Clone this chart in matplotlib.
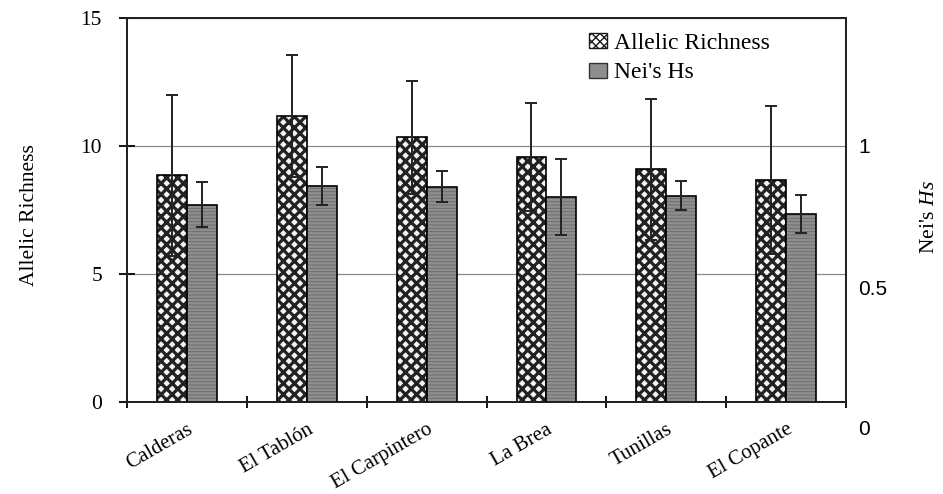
import numpy as np
import matplotlib.pyplot as plt
from matplotlib.patches import Patch

# values
sites = ["Calderas", "El Tablón", "El Carpintero", "La Brea", "Tunillas", "El Copante"]
richness = [8.85, 11.17, 10.34, 9.58, 9.09, 8.67]
richness_err = [3.15, 2.37, 2.20, 2.10, 2.75, 2.90]
nei_hs = [0.793, 0.859, 0.856, 0.819, 0.825, 0.759]
nei_err = [0.080, 0.067, 0.054, 0.135, 0.050, 0.067]
left_ticks = [0, 5, 10, 15]
right_ticks = [0.5, 1]

plt.rcParams['font.family'] = ['Liberation Serif', 'DejaVu Serif']
plt.rcParams['mathtext.fontset'] = 'custom'
plt.rcParams['mathtext.it'] = 'Liberation Serif:italic'
plt.rcParams['mathtext.rm'] = 'Liberation Serif'

fig = plt.figure(figsize=(9.43, 4.94), dpi=100)
ax = fig.add_axes([0.1347, 0.1862, 0.7625, 0.7773])
ax2 = ax.twinx()

x = np.arange(len(sites))
w = 0.25

# allelic richness: checker look, drawn as fill+hatch, then outline
with plt.rc_context({'hatch.linewidth': 2.3}):
    ax.bar(x - w / 2, richness, w, color='#f4f4f4', edgecolor='#222222',
           hatch='xxx', linewidth=0, zorder=2)
ax.bar(x - w / 2, richness, w, fill=False, edgecolor='black', linewidth=1.2, zorder=3)
ax.errorbar(x - w / 2, richness, yerr=richness_err, fmt='none', ecolor='#222222',
            elinewidth=1.4, capsize=4, capthick=1.4, zorder=4)

with plt.rc_context({'hatch.linewidth': 0.6}):
    ax2.bar(x + w / 2, nei_hs, w, color='#8e8e8e', edgecolor='#6a6a6a',
            hatch='-----', linewidth=0, zorder=2)
ax2.bar(x + w / 2, nei_hs, w, fill=False, edgecolor='black', linewidth=1.2, zorder=3)
ax2.errorbar(x + w / 2, nei_hs, yerr=nei_err, fmt='none', ecolor='#222222',
             elinewidth=1.4, capsize=4, capthick=1.4, zorder=4)

ax.set_xlim(-0.5, len(sites) - 0.5)
ax.set_ylim(0, 15)
ax2.set_ylim(0.0954, 1.452)

ax.set_yticks(left_ticks)
ax.yaxis.grid(True, color='#8a8a8a', linewidth=0.9)
ax.set_axisbelow(True)
ax.tick_params(axis='y', direction='inout', length=12, width=1.3, labelsize=15.5, pad=12)

ax.set_xticks(np.arange(len(sites) + 1) - 0.5)
ax.set_xticklabels([])
ax.set_xticks(x, minor=True)
ax.set_xticklabels(sites, minor=True, rotation=30, ha='right', va='top',
                   rotation_mode='anchor', fontsize=15)
ax.tick_params(axis='x', which='major', direction='inout', length=9, width=1.3)
ax.tick_params(axis='x', which='minor', length=0, pad=13)

ax2.set_yticks(right_ticks)
ax2.set_yticklabels(['0.5', '1'], family='Liberation Sans', fontsize=15)
ax2.tick_params(axis='y', length=0, pad=9)
ax2.annotate('0', xy=(1, 0), xycoords=('axes fraction', 'data'),
             xytext=(9, 0), textcoords='offset points', ha='left', va='center',
             family='Liberation Sans', fontsize=15, annotation_clip=False)

for a in (ax, ax2):
    for s in a.spines.values():
        s.set_linewidth(1.4)
        s.set_color('#222222')

fig.text(0.031, 0.565, 'Allelic Richness', rotation=90, ha='center', va='center', fontsize=15.5)
fig.text(0.986, 0.56, "Nei's $\\mathit{Hs}$", rotation=90, ha='center', va='center', fontsize=15.5)

handles = [Patch(facecolor='white', edgecolor='#1a1a1a', hatch='xxxx', label='Allelic Richness'),
           Patch(facecolor='#8e8e8e', edgecolor='#333333', label="Nei's Hs")]
ax2.legend(handles=handles, loc='upper left', bbox_to_anchor=(0.63, 0.985), frameon=False,
           fontsize=17, handlelength=0.75, handleheight=0.6, handletextpad=0.3,
           labelspacing=0.35, borderaxespad=0)

fig.savefig('out.png', dpi=100)
